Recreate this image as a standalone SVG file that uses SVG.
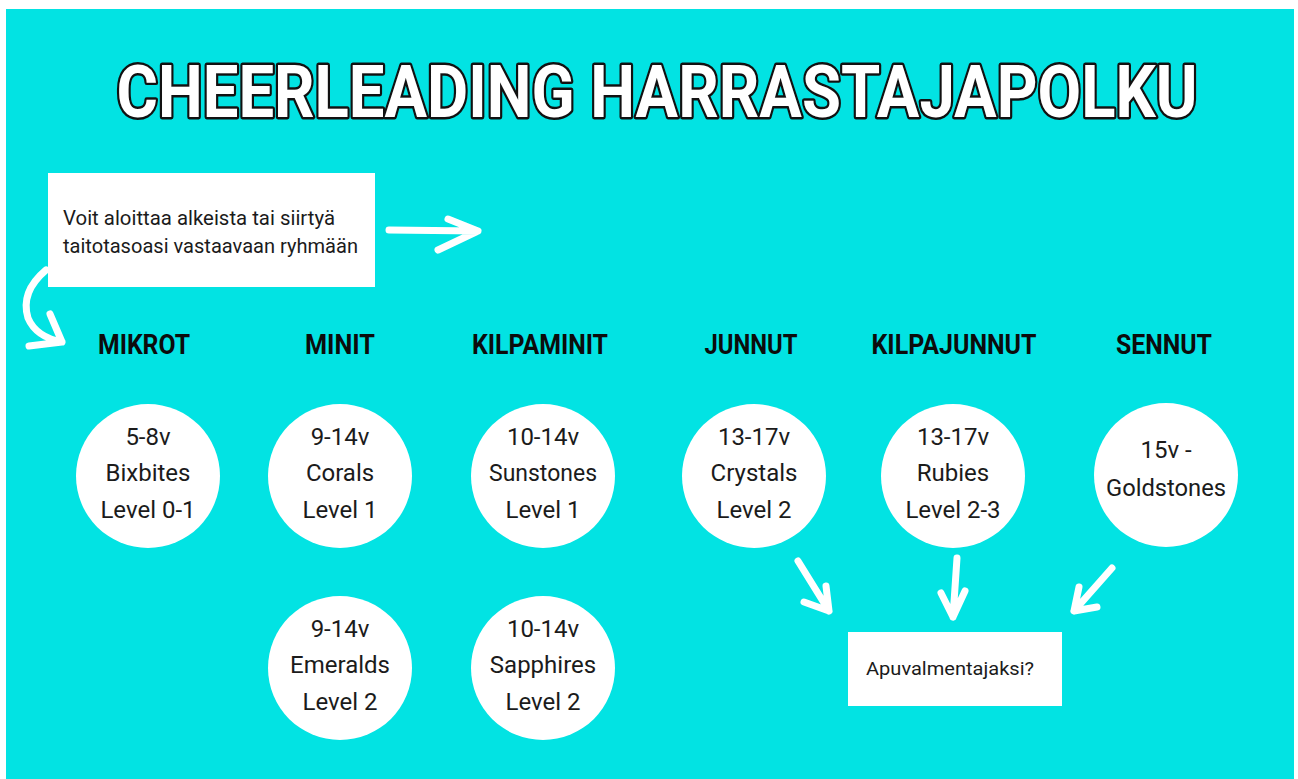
<svg xmlns="http://www.w3.org/2000/svg" width="1298" height="779" viewBox="0 0 1298 779">
<style>
.bg{fill:#02E3E3}
.box{fill:#ffffff}
.circ{fill:#ffffff}
.t{font-family:Roboto,"Liberation Sans",sans-serif;fill:#1b1b1b}
.ct{font-family:Roboto,"Liberation Sans",sans-serif;font-size:24px;fill:#1b1b1b;text-anchor:middle}
.hd{font-family:Roboto,"Liberation Sans",sans-serif;font-size:27px;font-weight:700;fill:#0c0c0c;text-anchor:middle}
.title{font-family:Roboto,"Liberation Sans",sans-serif;font-size:72px;font-weight:700;fill:#ffffff;stroke:#111111;stroke-width:5;paint-order:stroke fill;stroke-linejoin:round}
.arr{fill:none;stroke:#ffffff;stroke-width:7;stroke-linecap:round;stroke-linejoin:round}
</style>
<rect x="0" y="0" width="1298" height="779" fill="#ffffff"/>
<rect class="bg" x="6" y="9" width="1288" height="770"/>
<text class="title" x="0" y="0" text-anchor="middle" transform="translate(657,117) scale(0.88,1)">CHEERLEADING HARRASTAJAPOLKU</text>

<g id="connectors">
<path class="arr" d="M389 230 L478 231 M448 219 L478 231 L438 250"/>
<path class="arr" d="M46 270 Q20 292 28 318 Q36 337 62 342 M50 314 L62 342 L29 346"/>
<path class="arr" d="M798 561 L829 611 M804 602 L829 611 L826 586"/>
<path class="arr" d="M957 558 L953 617 M941 593 L953 617 L965 591"/>
<path class="arr" d="M1112 568 L1074 611 M1079 587 L1074 611 L1097 607"/>
</g>

<g id="intro">
<rect class="box" x="48" y="173" width="327" height="114"/>
<text class="t" x="63" y="225" font-size="21" textLength="272" lengthAdjust="spacingAndGlyphs">Voit aloittaa alkeista tai siirtyä</text>
<text class="t" x="63" y="253" font-size="21" textLength="295" lengthAdjust="spacingAndGlyphs">taitotasoasi vastaavaan ryhmään</text>
</g>

<g id="headings">
<text class="hd" x="144" y="354" textLength="92" lengthAdjust="spacingAndGlyphs">MIKROT</text>
<text class="hd" x="340" y="354" textLength="70" lengthAdjust="spacingAndGlyphs">MINIT</text>
<text class="hd" x="540" y="354" textLength="136" lengthAdjust="spacingAndGlyphs">KILPAMINIT</text>
<text class="hd" x="751" y="354" textLength="93" lengthAdjust="spacingAndGlyphs">JUNNUT</text>
<text class="hd" x="954" y="354" textLength="165" lengthAdjust="spacingAndGlyphs">KILPAJUNNUT</text>
<text class="hd" x="1164" y="354" textLength="96" lengthAdjust="spacingAndGlyphs">SENNUT</text>
</g>

<g id="bixbites">
<circle class="circ" cx="148" cy="476" r="72"/>
<text class="ct" x="148" y="445">5-8v</text>
<text class="ct" x="148" y="481">Bixbites</text>
<text class="ct" x="148" y="518">Level 0-1</text>
</g>
<g id="corals">
<circle class="circ" cx="340" cy="476" r="72"/>
<text class="ct" x="340" y="445">9-14v</text>
<text class="ct" x="340" y="481">Corals</text>
<text class="ct" x="340" y="518">Level 1</text>
</g>
<g id="sunstones">
<circle class="circ" cx="543" cy="476" r="72"/>
<text class="ct" x="543" y="445">10-14v</text>
<text class="ct" x="543" y="481" textLength="108" lengthAdjust="spacingAndGlyphs">Sunstones</text>
<text class="ct" x="543" y="518">Level 1</text>
</g>
<g id="crystals">
<circle class="circ" cx="754" cy="476" r="72"/>
<text class="ct" x="754" y="445">13-17v</text>
<text class="ct" x="754" y="481">Crystals</text>
<text class="ct" x="754" y="518">Level 2</text>
</g>
<g id="rubies">
<circle class="circ" cx="953" cy="476" r="72"/>
<text class="ct" x="953" y="445">13-17v</text>
<text class="ct" x="953" y="481">Rubies</text>
<text class="ct" x="953" y="518">Level 2-3</text>
</g>
<g id="goldstones">
<circle class="circ" cx="1166" cy="475" r="72"/>
<text class="ct" x="1166" y="458">15v -</text>
<text class="ct" x="1166" y="496" textLength="120" lengthAdjust="spacingAndGlyphs">Goldstones</text>
</g>
<g id="emeralds">
<circle class="circ" cx="340" cy="668" r="72"/>
<text class="ct" x="340" y="637">9-14v</text>
<text class="ct" x="340" y="673">Emeralds</text>
<text class="ct" x="340" y="710">Level 2</text>
</g>
<g id="sapphires">
<circle class="circ" cx="543" cy="668" r="72"/>
<text class="ct" x="543" y="637">10-14v</text>
<text class="ct" x="543" y="673">Sapphires</text>
<text class="ct" x="543" y="710">Level 2</text>
</g>

<g id="apuvalmentaja">
<rect class="box" x="848" y="632" width="214" height="74"/>
<text class="t" x="866" y="675" font-size="19" textLength="168" lengthAdjust="spacingAndGlyphs">Apuvalmentajaksi?</text>
</g>
</svg>
